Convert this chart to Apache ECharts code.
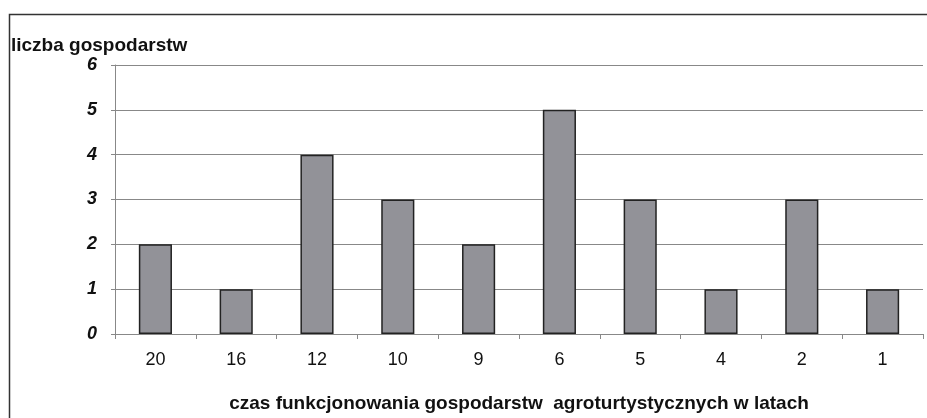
<!DOCTYPE html>
<html>
<head>
<meta charset="utf-8">
<script src="https://cdn.jsdelivr.net/npm/echarts@6/dist/echarts.min.js"></script>
<style>html,body{margin:0;padding:0;background:#fff;}#c{width:927px;height:418px;}</style>
</head>
<body>
<div id="c"></div>
<script>
const categories = ['20','16','12','10','9','6','5','4','2','1'];
const values = [2,1,4,3,2,5,3,1,3,1];
const yTicks = [0,1,2,3,4,5,6];
const yTitle = 'liczba gospodarstw';
const xTitle = 'czas funkcjonowania gospodarstw  agroturtystycznych w latach';

const chart = echarts.init(document.getElementById('c'));
const font = 'Liberation Sans, Arial, sans-serif';
chart.setOption({
  animation: false,
  backgroundColor: '#fff',
  textStyle: {fontFamily: font},
  title: {
    text: yTitle, left: 11, top: 36, padding: 0,
    textStyle: {fontFamily: font, fontSize: 19, fontWeight: 'bold', color: '#111'}
  },
  graphic: [{
    type: 'rect', left: 7, top: 12, silent: true,
    shape: {width: 1000, height: 1000},
    style: {fill: 'none', stroke: '#333', lineWidth: 1.5}
  }],
  grid: {left: 115, right: 4, top: 65, bottom: 76},
  xAxis: {
    type: 'category', data: categories,
    name: xTitle, nameLocation: 'middle', nameGap: 60,
    nameTextStyle: {fontFamily: font, fontSize: 19, fontWeight: 'bold', color: '#111'},
    axisLine: {lineStyle: {color: '#888', width: 1}},
    axisTick: {show: true, length: 5, lineStyle: {color: '#888'}},
    axisLabel: {fontFamily: font, fontSize: 18, color: '#111', margin: 17}
  },
  yAxis: {
    type: 'value', min: yTicks[0], max: yTicks[yTicks.length-1], interval: 1,
    axisLine: {show: true, lineStyle: {color: '#888', width: 1}},
    axisTick: {show: true, length: 4, lineStyle: {color: '#888'}},
    axisLabel: {fontFamily: font, fontSize: 18, fontWeight: 'bold', fontStyle: 'italic', color: '#111', margin: 18},
    splitLine: {show: true, lineStyle: {color: '#888', width: 1}}
  },
  series: [{
    type: 'bar', data: values, barWidth: '41%',
    itemStyle: {color: '#929298', borderColor: '#222', borderWidth: 1.5}
  }]
});
</script>
</body>
</html>
